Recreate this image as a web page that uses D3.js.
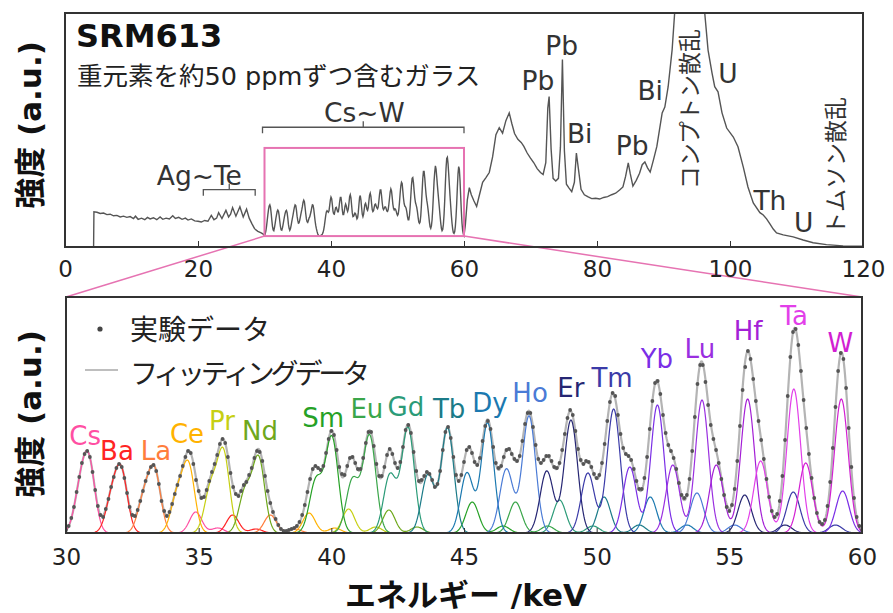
<!DOCTYPE html>
<html lang="ja">
<head>
<meta charset="UTF-8">
<title>SRM613 spectrum</title>
<style>
  body { margin: 0; background: #fff; }
  svg { display: block; }
  text { font-family: "DejaVu Sans", "Noto Sans CJK JP", sans-serif; }
</style>
</head>
<body>
<svg width="893" height="613"></svg>
<script src="https://d3js.org/d3.v7.min.js"></script>
<script>
// full spectrum, parts outside 30-60 keV (energy keV / intensity a.u.)
const topLowE = [4.3, 4.35, 4.8, 5.3, 5.8, 6.3, 6.8, 7.3, 7.8, 8.3, 8.8, 9.3, 9.8, 10.3, 10.6, 11.0, 11.5, 12.0, 12.4, 12.8,
  13.3, 13.8, 14.3, 14.7, 15.2, 15.7, 16.2, 16.6, 17.1, 17.6, 18.1, 18.5, 19.0, 19.5, 20.0, 20.5, 21.0, 21.5, 22.0, 22.4,
  22.8, 23.1, 23.6, 24.2, 24.6, 24.9, 25.2, 25.7, 26.3, 26.8, 27.3, 27.7, 28.1, 28.5, 29.0, 29.5, 29.8];
const topLowH = [-26, 64, 63, 60, 61, 57, 58, 54, 55, 51, 53, 50, 52, 47, 53, 45, 48, 44, 50, 46,
  49, 44, 51, 45, 48, 46, 54, 47, 50, 45, 48, 43, 46, 41, 40, 38, 42, 40, 55, 44,
  48, 62, 47, 68, 51, 58, 75, 53, 77, 51, 71, 48, 34, 21, 14, 10, 7];
const topHighE = [60.2, 60.5, 60.8, 61.1, 61.5, 61.9, 62.3, 62.8, 63.3, 63.8, 64.3, 64.8, 65.3, 65.8, 66.3, 66.8, 67.2, 67.6,
  68.1, 68.6, 69.0, 69.5, 70.0, 70.5, 71.0, 71.5, 71.9, 72.3, 72.6, 72.8, 73.1, 73.4, 73.8, 74.2, 74.5, 74.8, 75.1, 75.4,
  75.8, 76.2, 76.6, 76.9, 77.2, 77.6, 78.1, 78.6, 79.2, 79.8, 80.4, 81.0, 81.6, 82.2, 82.8, 83.4, 83.9, 84.3, 84.7, 85.0,
  85.4, 85.9, 86.4, 86.8, 87.2, 87.6, 88.0, 88.5, 89.0, 89.4, 89.8, 90.2, 90.7, 91.3, 91.7, 92.2, 93.0, 94.0, 95.0, 95.8,
  96.2, 96.7, 97.3, 97.7, 98.2, 98.8, 99.5, 100.5, 101.2, 102.0, 102.7, 103.5, 104.5, 105.0, 105.5, 106.0, 106.5, 107.0,
  108.0, 109.5, 111.0, 112.5, 114.5, 117.0, 120.0];
const topHighH = [30, 95, 126, 108, 92, 78, 106, 140, 152, 165, 205, 262, 280, 266, 298, 318, 290, 265,
  250, 242, 232, 215, 202, 190, 175, 165, 160, 190, 330, 360, 225, 150, 143, 150, 230, 455, 220, 135,
  125, 116, 140, 215, 175, 122, 108, 103, 98, 99, 97, 101, 103, 108, 112, 120, 128, 155, 190, 162,
  130, 145, 163, 185, 192, 177, 166, 198, 232, 275, 318, 333, 385, 480, 580, 700, 850, 900, 860, 700,
  574, 479, 420, 385, 372, 318, 279, 256, 231, 179, 128, 87, 62, 56, 46, 33, 20, 10,
  5, 0, -8, -15, -20, -23, -24];

// measured points 30-60 keV, every 0.1 keV
const expStart = 30, expStep = 0.1;
const expCounts = [
  3, 7, 15, 26, 41, 56, 70, 79, 82, 76,
  61, 43, 27, 18, 16, 24, 34, 46, 56, 65,
  69, 66, 55, 40, 26, 18, 17, 23, 32, 42,
  52, 60, 66, 68, 62, 49, 32, 22, 17, 21,
  29, 39, 48, 57, 67, 76, 82, 80, 69, 53,
  42, 35, 36, 43, 52, 61, 69, 78, 89, 94,
  90, 76, 60, 46, 39, 37, 42, 48, 51, 58,
  65, 75, 82, 81, 72, 57, 42, 30, 21, 14,
  8, 4, 2, 2, 3, 4, 5, 7, 11, 18,
  28, 41, 54, 64, 67, 65, 63, 67, 80, 94,
  102, 98, 83, 66, 59, 58, 67, 75, 76, 70,
  64, 64, 75, 90, 101, 101, 87, 69, 57, 57,
  66, 78, 84, 79, 70, 65, 71, 86, 103, 108,
  100, 81, 62, 52, 53, 57, 61, 59, 53, 46,
  49, 62, 83, 101, 106, 95, 76, 58, 52, 58,
  71, 83, 86, 80, 71, 68, 75, 92, 107, 112,
  104, 86, 70, 65, 67, 76, 83, 84, 79, 74,
  72, 77, 92, 109, 120, 120, 106, 88, 74, 70,
  73, 77, 77, 72, 66, 65, 70, 83, 99, 115,
  123, 118, 102, 84, 73, 69, 72, 71, 66, 59,
  55, 58, 70, 89, 112, 131, 140, 137, 118, 99,
  85, 79, 77, 73, 64, 52, 44, 44, 55, 76,
  104, 132, 150, 152, 139, 118, 100, 88, 82, 75,
  64, 50, 38, 35, 38, 54, 82, 116, 149, 168,
  168, 151, 128, 108, 94, 83, 70, 54, 38, 26,
  22, 28, 44, 72, 107, 143, 166, 182, 174, 154,
  132, 112, 93, 74, 54, 36, 22, 16, 19, 32,
  57, 93, 137, 176, 201, 204, 188, 162, 133, 105,
  79, 55, 35, 20, 11, 9, 13, 27, 51, 85,
  126, 162, 180, 174, 145, 105, 66, 35, 16, 7,
  3];

// fitted K lines per element
const elements = ["Cs", "Ba", "La", "Ce", "Pr", "Nd", "Sm", "Eu", "Gd", "Tb", "Dy", "Ho", "Er", "Tm", "Yb", "Lu", "Hf", "Ta", "W"];
const elementColors = ["#ff4fa3", "#ff2424", "#ff7d3c", "#ffb200", "#c6cf12", "#6fa81c", "#26a126", "#3aa64a", "#2b9b78", "#1b7b88",
  "#1b79b0", "#4a7bd6", "#262673", "#3b3ba8", "#7a2ee6", "#9a2fe0", "#a41fd6", "#e23fe9", "#d21fd2"];
const ka1E = [30.87, 32.09, 33.34, 34.62, 35.93, 37.26, 40.02, 41.44, 42.89, 44.38, 45.89, 47.45, 49.03, 50.64, 52.29, 53.97, 55.69, 57.43, 59.22];
const ka1H = [66, 58, 60, 66, 80, 74, 95, 97, 105, 105, 110, 117, 113, 124, 128, 133, 134, 144, 134];
const ka2E = [30.53, 31.72, 32.93, 34.18, 35.45, 36.75, 39.42, 40.80, 42.21, 43.64, 45.11, 46.60, 48.12, 49.67, 51.25, 52.87, 54.51, 56.18, 57.88];
const ka2H = [38, 32, 33, 36, 44, 41, 52, 53, 58, 58, 60, 64, 62, 60, 66, 68, 68, 72, 70];
const kb1E = [34.89, 36.28, 37.70, 39.16, 40.65, 42.17, 45.31, 46.94, 48.60, 50.28, 52.02, 53.78, 55.58, 57.41, 59.27, 61.18, 63.13, 65.12, 67.14];
const kb1H = [21, 18, 18, 20, 24, 23, 31, 31, 33, 36, 36, 40, 38, 41, 42, 43, 43, 45, 42];
const kb2E = [35.72, 37.16, 38.63, 40.13, 41.67, 43.23, 46.47, 48.15, 49.86, 51.60, 53.40, 55.20, 57.10, 59.00, 60.90, 62.90, 64.90, 66.90, 69.00];
const kb2H = [5, 4, 4, 5, 6, 6, 7, 7, 7, 8, 8, 8, 8, 8, 8, 9, 9, 9, 9];
const peakSigma = [0.23, 0.23, 0.23, 0.23, 0.23, 0.23, 0.24, 0.24, 0.24, 0.24, 0.24, 0.25, 0.25, 0.25, 0.25, 0.25, 0.26, 0.26, 0.26];

const topTicks = [0, 20, 40, 60, 80, 100, 120];
const bottomTicks = [30, 35, 40, 45, 50, 55, 60];

// label anchors (keV, a.u.)
const labelE = [30.72, 31.92, 33.39, 34.56, 35.88, 37.31, 39.69, 41.34, 42.81, 44.44, 45.98, 47.49, 49.03, 50.58, 52.27, 53.89, 55.71, 57.44, 59.18];
const labelH = [88, 73, 73, 90, 103, 93, 106, 115, 117, 115, 121, 131, 136, 146, 165, 175, 193, 208, 181];
const topNotes = [
  { t: "Pb", e: 71.1, h: 377 }, { t: "Pb", e: 74.7, h: 466 }, { t: "Bi", e: 77.4, h: 241 },
  { t: "Pb", e: 85.3, h: 210 }, { t: "Bi", e: 88.0, h: 351 }, { t: "U", e: 99.7, h: 395 },
  { t: "Th", e: 106.0, h: 69 }, { t: "U", e: 111.1, h: 12 },
  { t: "Ag~Te", e: 20.2, h: 133 }, { t: "Cs~W", e: 45.0, h: 294 }
];
// rotated notes: start (bottom) of text
const sideNotes = [
  { t: "コンプトン散乱", e: 94.0, h: 122 },
  { t: "トムソン散乱", e: 115.9, h: 5 }
];

const svg = d3.select("svg");
const ink = "#333";

// scales
const xT = d3.scaleLinear().domain([0, 120]).range([65, 863]);
const yT = d3.scaleLinear().domain([-26, 574]).range([247, 13]);
const xB = d3.scaleLinear().domain([30, 60]).range([66, 862]);
const yB = d3.scaleLinear().domain([0, 236]).range([533, 297]);

const defs = svg.append("defs");
defs.append("clipPath").attr("id", "clipTop").append("rect")
  .attr("x", 65).attr("y", 13).attr("width", 798).attr("height", 234);
defs.append("clipPath").attr("id", "clipBot").append("rect")
  .attr("x", 66).attr("y", 297).attr("width", 796).attr("height", 236);

// ---------- top panel ----------
const expE = expCounts.map((v, i) => expStart + i * expStep);
const topSpec = [
  ...topLowE.map((e, i) => [e, topLowH[i]]),
  ...expE.map((e, i) => [e, expCounts[i]]),
  ...topHighE.map((e, i) => [e, topHighH[i]])
];

svg.append("path")
  .datum(topSpec)
  .attr("clip-path", "url(#clipTop)")
  .attr("fill", "none")
  .attr("stroke", "#555")
  .attr("stroke-width", 1.4)
  .attr("d", d3.line().x(d => xT(d[0])).y(d => yT(d[1])));

// zoom box and connectors
const pink = "#e673b2";
svg.append("rect")
  .attr("x", xT(30)).attr("y", yT(228))
  .attr("width", xT(60) - xT(30)).attr("height", yT(2) - yT(228))
  .attr("fill", "none").attr("stroke", pink).attr("stroke-width", 2);
[30, 60].forEach(e => {
  svg.append("line")
    .attr("x1", xT(e)).attr("y1", yT(2))
    .attr("x2", xB(e)).attr("y2", yB(236))
    .attr("stroke", pink).attr("stroke-width", 1.5);
});

// brackets
function bracket(e0, e1, h) {
  const y = yT(h), xm = (xT(e0) + xT(e1)) / 2;
  svg.append("path")
    .attr("d", `M${xT(e0)},${y + 6}V${y}H${xT(e1)}V${y + 6}M${xm},${y}V${y - 6}`)
    .attr("fill", "none").attr("stroke", "#555").attr("stroke-width", 1.3);
}
bracket(29.7, 60, 281);
bracket(20.8, 28.6, 121);

svg.append("g").selectAll("text")
  .data(topNotes)
  .join("text")
  .attr("x", d => xT(d.e))
  .attr("y", d => yT(d.h))
  .attr("text-anchor", "middle")
  .attr("font-size", 26.5)
  .attr("fill", ink)
  .text(d => d.t);

svg.append("g").selectAll("text")
  .data(sideNotes)
  .join("text")
  .attr("transform", d => `translate(${xT(d.e)},${yT(d.h)}) rotate(-90)`)
  .attr("dominant-baseline", "central")
  .attr("font-size", 23)
  .attr("fill", ink)
  .text(d => d.t);

svg.append("text")
  .attr("x", 76).attr("y", 47)
  .attr("font-size", 32).attr("font-weight", "bold").attr("fill", "#111")
  .text("SRM613");
svg.append("text")
  .attr("x", 77).attr("y", 85)
  .attr("font-size", 25.5).attr("fill", "#222")
  .text("重元素を約50 ppmずつ含むガラス");

svg.append("rect")
  .attr("x", 65).attr("y", 13).attr("width", 798).attr("height", 234)
  .attr("fill", "none").attr("stroke", ink).attr("stroke-width", 2);

const axT = svg.append("g")
  .attr("transform", "translate(0,247)")
  .call(d3.axisBottom(xT).tickValues(topTicks).tickSizeInner(-6).tickSizeOuter(0).tickPadding(14));
axT.select(".domain").remove();
axT.attr("font-family", null).attr("font-size", null);
axT.selectAll("line").attr("stroke", ink);
axT.selectAll("text").attr("font-size", 23).attr("fill", "#222");

// ---------- bottom panel ----------
const gauss = (e, c, h, s) => h * Math.exp(-0.5 * ((e - c) / s) ** 2);
const grid = d3.range(30, 60.0001, 0.02);
const compCurves = elements.map((el, i) => {
  const lines = [[ka2E[i], ka2H[i]], [ka1E[i], ka1H[i]], [kb1E[i], kb1H[i]], [kb2E[i], kb2H[i]]];
  return grid.map(e => [e, d3.sum(lines, l => gauss(e, l[0], l[1], peakSigma[i]))]);
});
const fitCurve = grid.map((e, j) => [e, d3.sum(compCurves, c => c[j][1])]);

const lineB = d3.line().x(d => xB(d[0])).y(d => yB(d[1]));
const gB = svg.append("g").attr("clip-path", "url(#clipBot)");

gB.append("path")
  .datum(fitCurve)
  .attr("fill", "none")
  .attr("stroke", "#b4b4b4")
  .attr("stroke-width", 2.2)
  .attr("d", lineB);

gB.selectAll(".comp")
  .data(compCurves)
  .join("path")
  .attr("class", "comp")
  .attr("fill", "none")
  .attr("stroke", (d, i) => elementColors[i])
  .attr("stroke-width", 1.2)
  .attr("d", lineB);

gB.selectAll(".pt")
  .data(expCounts)
  .join("circle")
  .attr("class", "pt")
  .attr("cx", (d, i) => xB(expE[i]))
  .attr("cy", d => yB(d))
  .attr("r", 1.9)
  .attr("fill", "#555");

svg.append("g").selectAll("text")
  .data(elements)
  .join("text")
  .attr("x", (d, i) => xB(labelE[i]))
  .attr("y", (d, i) => yB(labelH[i]))
  .attr("text-anchor", "middle")
  .attr("font-size", 26)
  .attr("fill", (d, i) => elementColors[i])
  .text(d => d);

// legend
svg.append("circle").attr("cx", 100).attr("cy", 329).attr("r", 2.6).attr("fill", "#444");
svg.append("text").attr("x", 130).attr("y", 340)
  .attr("font-size", 28).attr("fill", "#222").text("実験データ");
svg.append("line").attr("x1", 85).attr("x2", 118).attr("y1", 370).attr("y2", 370)
  .attr("stroke", "#a8a8a8").attr("stroke-width", 1.5);
svg.append("text").attr("x", 130).attr("y", 384)
  .attr("font-size", 28).attr("fill", "#222")
  .attr("textLength", 240).attr("lengthAdjust", "spacing")
  .text("フィッティングデータ");

svg.append("rect")
  .attr("x", 66).attr("y", 297).attr("width", 796).attr("height", 236)
  .attr("fill", "none").attr("stroke", ink).attr("stroke-width", 2);

const axB = svg.append("g")
  .attr("transform", "translate(0,533)")
  .call(d3.axisBottom(xB).tickValues(bottomTicks).tickSizeInner(-5).tickSizeOuter(0).tickPadding(16));
axB.select(".domain").remove();
axB.attr("font-family", null).attr("font-size", null);
axB.selectAll("line").attr("stroke", ink);
axB.selectAll("text").attr("font-size", 23).attr("fill", "#222");

// axis titles
svg.append("text")
  .attr("x", 466).attr("y", 606)
  .attr("text-anchor", "middle")
  .attr("font-size", 31).attr("font-weight", "bold").attr("fill", "#111")
  .text("エネルギー /keV");
[125, 414].forEach(cy => {
  svg.append("text")
    .attr("transform", `translate(30,${cy}) rotate(-90)`)
    .attr("text-anchor", "middle")
    .attr("dominant-baseline", "central")
    .attr("font-size", 31).attr("font-weight", "bold").attr("fill", "#111")
    .text("強度 (a.u.)");
});
</script>
</body>
</html>
